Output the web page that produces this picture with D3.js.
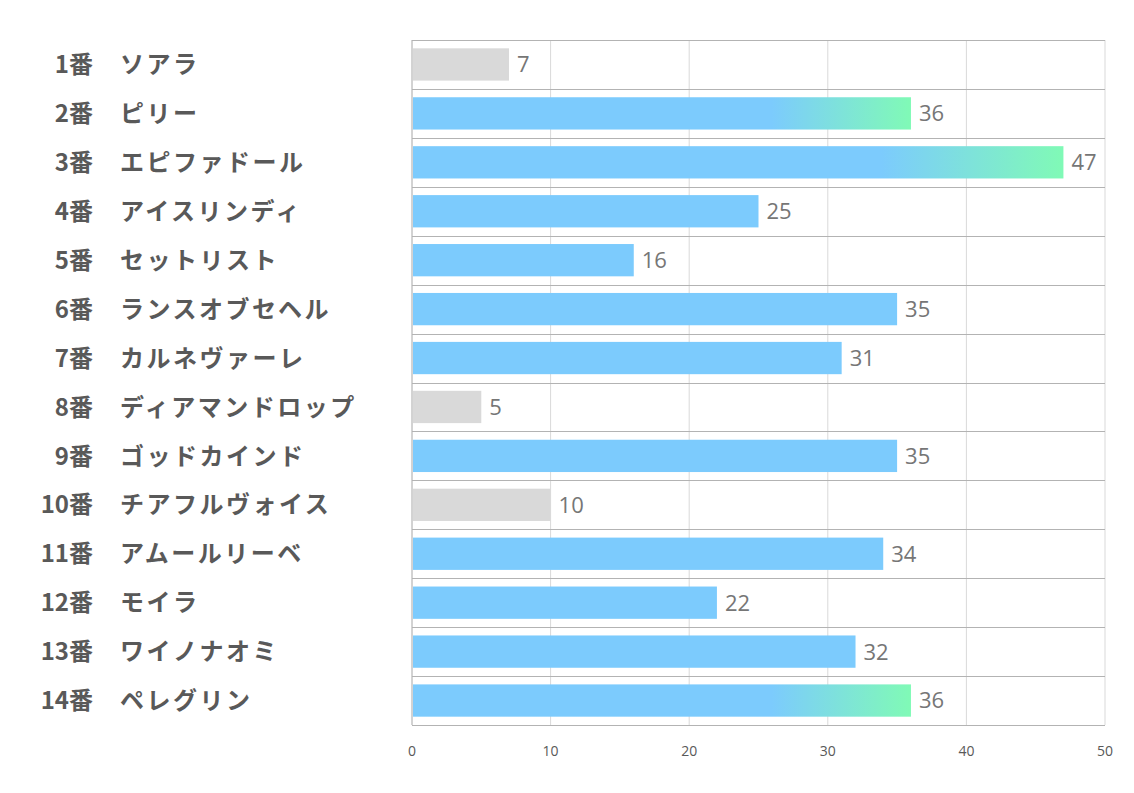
<!DOCTYPE html>
<html>
<head>
<meta charset="utf-8">
<script src="https://cdn.jsdelivr.net/npm/d3@7"></script>
<style>
  body { margin: 0; background: #fff; }
  svg { display: block; }
</style>
</head>
<body>
<div id="chart"></div>
<script>
const WIDTH = 1134;
const HEIGHT = 793;

// horse numbers, names and values
const numbers = ["1番","2番","3番","4番","5番","6番","7番","8番","9番","10番","11番","12番","13番","14番"];
const names = ["ソアラ","ピリー","エピファドール","アイスリンディ","セットリスト","ランスオブセヘル","カルネヴァーレ",
  "ディアマンドロップ","ゴッドカインド","チアフルヴォイス","アムールリーベ","モイラ","ワイノナオミ","ペレグリン"];
const values = [7, 36, 47, 25, 16, 35, 31, 5, 35, 10, 34, 22, 32, 36];
const xTicks = [0, 10, 20, 30, 40, 50];

const margin = {top: 40, right: 29, bottom: 68, left: 412};
const width = WIDTH - margin.left - margin.right;
const height = HEIGHT - margin.top - margin.bottom;

const svg = d3.select("#chart").append("svg")
    .attr("width", WIDTH)
    .attr("height", HEIGHT);

const defs = svg.append("defs");
const grad = defs.append("linearGradient")
    .attr("id", "topGrad")
    .attr("x1", "0").attr("x2", "1").attr("y1", "0").attr("y2", "0");
grad.append("stop").attr("offset", "0.72").attr("stop-color", "#7ccbfd");
grad.append("stop").attr("offset", "1").attr("stop-color", "#80fab6");

const g = svg.append("g")
    .attr("transform", "translate(" + margin.left + "," + margin.top + ")");

const x = d3.scaleLinear().domain([0, 50]).range([0, width]);
const y = d3.scaleBand().domain(d3.range(numbers.length)).range([0, height]).paddingInner(0.34).paddingOuter(0.17);
const rows = d3.scaleBand().domain(d3.range(numbers.length)).range([0, height]);

// vertical grid
g.selectAll(".vgrid")
    .data(xTicks)
  .enter().append("line")
    .attr("x1", d => x(d)).attr("x2", d => x(d))
    .attr("y1", 0).attr("y2", height)
    .attr("stroke", d => d === 0 ? "#a6a6a6" : "#d9d9d9")
    .attr("stroke-width", 1);

// horizontal row lines
g.selectAll(".hgrid")
    .data(d3.range(numbers.length + 1))
  .enter().append("line")
    .attr("x1", 0).attr("x2", width)
    .attr("y1", d => Math.round(d === numbers.length ? height : rows(d)) + 0.5)
    .attr("y2", d => Math.round(d === numbers.length ? height : rows(d)) + 0.5)
    .attr("stroke", "#b3b3b3")
    .attr("stroke-width", 1);

// bars
const top3 = values.slice().sort((a, b) => b - a)[2];
g.selectAll(".bar")
    .data(values)
  .enter().append("rect")
    .attr("x", x(0) + 1)
    .attr("y", (d, i) => y(i))
    .attr("width", d => x(d) - x(0) - 1)
    .attr("height", y.bandwidth())
    .attr("fill", d => d <= 10 ? "#d9d9d9" : (d >= top3 ? "url(#topGrad)" : "#7ccbfd"));

// value labels
g.selectAll(".val")
    .data(values)
  .enter().append("text")
    .attr("x", d => x(d) + 8)
    .attr("y", (d, i) => y(i) + y.bandwidth() / 2)
    .attr("dy", "0.36em")
    .attr("font-family", "'Open Sans', 'Noto Sans', sans-serif")
    .attr("font-size", 22)
    .attr("fill", "#767676")
    .text(d => d);

// x axis labels
g.selectAll(".xt")
    .data(xTicks)
  .enter().append("text")
    .attr("x", d => x(d))
    .attr("y", height + 31)
    .attr("text-anchor", "middle")
    .attr("font-family", "'Open Sans', 'Noto Sans', sans-serif")
    .attr("font-size", 14)
    .attr("fill", "#595959")
    .text(d => d);

// left labels
const lab = svg.append("g").attr("transform", "translate(0," + margin.top + ")");
lab.selectAll(".num")
    .data(numbers)
  .enter().append("text")
    .attr("x", 93)
    .attr("y", (d, i) => rows(i) + rows.bandwidth() / 2)
    .attr("dy", "0.36em")
    .attr("text-anchor", "end")
    .attr("font-family", "'Noto Sans CJK JP', sans-serif")
    .attr("font-weight", "bold")
    .attr("font-size", 24)
    .attr("fill", "#595959")
    .text(d => d);
lab.selectAll(".name")
    .data(names)
  .enter().append("text")
    .attr("x", 120)
    .attr("y", (d, i) => rows(i) + rows.bandwidth() / 2)
    .attr("dy", "0.36em")
    .attr("font-family", "'Noto Sans CJK JP', sans-serif")
    .attr("font-weight", "bold")
    .attr("font-size", 24)
    .attr("letter-spacing", 2.5)
    .attr("fill", "#595959")
    .text(d => d);
</script>
</body>
</html>
